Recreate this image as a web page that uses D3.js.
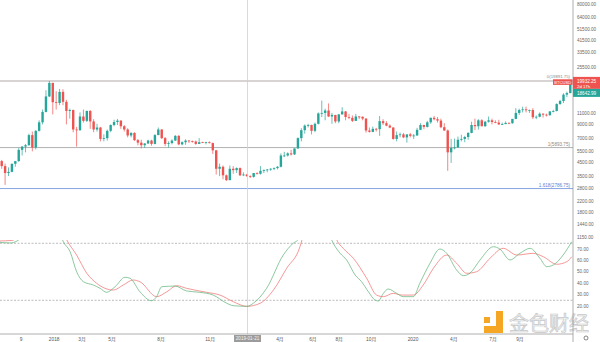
<!DOCTYPE html>
<html><head><meta charset="utf-8">
<script src="https://cdn.jsdelivr.net/npm/d3@7"></script>
<style>body{margin:0;background:#fff;overflow:hidden}svg{display:block;font-family:"Liberation Sans","Noto Sans CJK SC",Arial,sans-serif}</style>
</head><body><svg id="c" width="600" height="342"></svg>
<script>
// Weekly BTCUSD candles, week 0 = 2017-09-04 ... week 167 = 2020-11-16
const opens=[4600,4200,3700,3780,4380,4600,5650,6000,6150,7400,
5900,8000,9350,11300,15000,19200,13500,13300,16300,13600,
11500,11700,8200,8100,10400,9600,11500,9500,8200,8500,
6900,7000,8000,8900,9400,9650,8700,8200,7350,7700,
6750,6450,6150,6350,6700,6300,7400,8200,7000,6300,
6400,6700,7300,6250,6500,6700,6620,6580,6300,6500,
6450,6500,6400,5600,4000,4150,3550,3250,4000,3900,
4050,3550,3600,3500,3450,3700,3650,3850,3900,3950,
4000,4050,4150,5100,5100,5300,5200,5800,7000,8100,
8800,8900,8000,9100,11000,11100,11600,10400,10700,9500,
10800,11400,10300,10150,9600,10400,10350,10000,8050,7850,
8300,8250,9550,9200,8800,8500,6900,7400,7500,7100,
7500,7300,7350,8150,8900,8600,9350,10150,9900,9650,
8550,8050,5400,5850,5900,6800,6900,7150,7700,8900,
8700,9700,8700,9450,9700,9400,9300,9000,9050,9250,
9200,9950,11100,11700,11850,11650,11700,10250,10350,10950,
10750,10650,11400,11500,13050,13800,15500,15950];
const highs=[4700,4400,4100,4400,4620,5850,6050,6300,7600,7900,
8100,9700,11800,16800,19891,19300,16500,17200,17100,14100,
12000,11800,8600,11200,11800,11600,11700,9900,9100,8600,
7500,8200,9000,9800,9950,9700,8900,8400,7800,7800,
6900,6800,6400,6800,6800,7550,8500,8250,7150,6600,
6850,7400,7400,6600,6850,6750,6700,6700,7000,6550,
6550,6600,6450,5650,4400,4250,3600,4250,4200,4100,
4100,3750,3650,3550,3700,3750,4200,3950,3980,4050,
4100,4200,5300,5450,5400,5650,5800,7100,8400,9000,
9100,8950,9300,11200,13900,12000,13200,11100,10700,10900,
12300,11500,10900,10600,10900,10500,10400,10100,8500,8650,
8450,10500,9900,9550,9000,8550,7900,7750,7700,7500,
7700,7550,8450,9200,8950,9600,10200,10500,10300,10000,
9200,8200,6900,6950,7200,7450,7300,7800,9450,10000,
9900,9900,9600,10400,10000,9700,9800,9300,9500,9350,
9950,12100,12000,12450,12450,11800,12100,10600,11200,11000,
10950,11500,11750,13250,14100,15900,16400,18800];
const lows=[4000,2980,3500,3750,4150,4550,5100,5400,6100,5500,
5700,7900,9000,11200,14800,10800,11800,12800,12800,9000,
10000,7800,6000,8000,9300,9400,8300,7800,7900,6600,
6600,6700,7800,8700,8900,8300,7900,7100,7100,6650,
6150,5800,5850,6300,6100,6250,7400,6900,6050,5900,
6250,6650,6150,6150,6200,6400,6450,6200,6300,6400,
6250,6350,5250,3600,3500,3300,3200,3250,3650,3700,
3500,3500,3450,3380,3400,3600,3600,3700,3750,3850,
3900,3950,4100,4950,5000,5100,5150,5750,6600,7600,
8500,7500,7800,9000,10300,9700,10300,9100,9200,9200,
10800,9700,9900,9400,9600,9900,9700,7750,7750,7800,
7900,7300,8900,8700,8400,6800,6600,7100,7000,6450,
7100,6900,7300,8100,8250,8500,9100,9700,9300,8400,
8000,3850,4450,5700,5900,6600,6500,6800,7650,8100,
8200,8700,8650,9300,9000,9200,8900,8900,9050,9050,
9100,9900,10700,11200,11200,11100,9900,9900,10250,10200,
10400,10550,11200,11400,12900,13300,14800,15900];
const closes=[4200,3700,3780,4380,4600,5650,6000,6150,7400,5900,
8000,9350,11300,15000,19200,13500,13300,16300,13600,11500,
11700,8200,8100,10400,9600,11500,9500,8200,8500,6900,
7000,8000,8900,9400,9650,8700,8200,7350,7700,6750,
6450,6150,6350,6700,6300,7400,8200,7000,6300,6400,
6700,7300,6250,6500,6700,6620,6580,6300,6500,6450,
6500,6400,5600,4000,4150,3550,3250,4000,3900,4050,
3550,3600,3500,3450,3700,3650,3850,3900,3950,4000,
4050,4150,5100,5100,5300,5200,5800,7000,8100,8800,
8900,8000,9100,11000,11100,11600,10400,10700,9500,10800,
11400,10300,10150,9600,10400,10350,10000,8050,7850,8300,
8250,9550,9200,8800,8500,6900,7400,7500,7100,7500,
7300,7350,8150,8900,8600,9350,10150,9900,9650,8550,
8050,5400,5850,5900,6800,6900,7150,7700,8900,8700,
9700,8700,9450,9700,9400,9300,9000,9050,9250,9200,
9950,11100,11700,11850,11650,11700,10250,10350,10950,10750,
10650,11400,11500,13050,13800,15500,15950,18643];

// Oscillator readings (week position, value)
const kWeeks=[-1,2.4,4.5,7,10,14,16,18,20.1,22,24,26.9,28.9,30.8,33.3,36.2,37.7,40.6,44,45.5,47,50.9,54.3,58.2,62.1,66.1,68,72,73.9,77.8,82.7,85.6,87,89,92,95,96.9,97.4,99.4,101.3,103.8,105.7,107.7,109.6,110.6,112.1,113.5,116,117.9,120.9,122.8,125.8,128.7,130.7,133.6,135.6,137.5,140.5,144.4,146.3,149.3,152.2,155.2,158.1,160.1,162,164.9,167.4];
const kValues=[76,75.3,77,85,98,100,95,77,67.6,50.1,41.3,38.4,35.5,32,36.9,45.2,44.3,32.5,24.6,28.2,36.9,37.5,33.2,32,29.6,22.4,20.3,19.7,22.4,35.5,64.7,75,78,90,100,90,78,75,66.2,60.4,47.2,41.3,32.5,25.3,24.4,31.1,34.9,31.1,28.2,28.2,39.9,57.5,70,66.2,51.6,46.6,48.7,60.4,72,70,60.4,66.2,70.6,61.8,54.5,56,64.7,76.4];
const dWeeks=[-1,3,6,10,14,17,19.1,22,25,27.9,32.8,35.7,38.6,40.6,45.5,48.5,51.4,54.3,60.2,64.1,68,72,75.9,79.8,83.7,87.6,88.2,91,94,97,98.4,100.3,103.3,107.2,110.1,112.1,115,117.5,120.9,123.8,126.8,130.7,133.6,136.6,139.5,143.4,147.3,151.3,156.1,159.1,163,166,167.4];
const dValues=[77,77.5,85,97,100,92,78,64.7,48.7,39.9,34,38.4,42.8,41.3,28.2,32.5,37.8,35.5,32,29.6,23.8,19.7,22.4,34,53.1,72,78,92,100,90,78,70.6,61.8,44.3,29.6,28.2,31.1,29.6,29.6,38.4,53.1,64.7,57.5,48.7,50.1,61.8,70.6,64.7,66.2,63.2,56.6,58.9,63.2];

const priceTicks=[80000,64000,51500,41500,33500,25500,11000,9000,7000,5500,4500,3500,2800,2200,1800,1440,1150];
const oscTicks=[70,60,50,40,30,20];
const oscBands=[75,25];
const fibLabels=["0(19891.75)","1(5893.75)","1.618(2786.75)"];
const fibValues=[19891.75,5893.75,2786.75];
const timeLabels=["9","2018","3月","5月","8月","11月","4月","6月","8月","10月","2020","4月","7月","9月"];
const timeLabelWeeks=[5.7,15.4,23.6,32.4,46.8,61.2,81.7,91.4,99.1,108.5,120.8,132.8,144.3,152.2];
const crosshairWeek=72.2, crosshairText="2019-01-21";
const lastPrice=18642.99, markPrice=19932.25;

const svg=d3.select("#c");
const AX=573, PB=240, OB=334;
const x=d3.scaleLinear().domain([0,167]).range([1.7,570.3]);
const y=d3.scaleLog().domain([1088.3,87410]).range([PB,0]);
const yo=d3.scaleLinear().domain([20,70]).range([306,249]);
const UP="#26a69a", DN="#ef5350";

const defs=svg.append("defs");
defs.append("clipPath").attr("id","cp").append("rect").attr("x",0).attr("y",0).attr("width",AX).attr("height",PB);
defs.append("clipPath").attr("id","co").append("rect").attr("x",0).attr("y",PB).attr("width",AX).attr("height",OB-PB);

// watermark
const wm=svg.append("g");
wm.append("rect").attr("x",484).attr("y",317).attr("width",6).attr("height",6).attr("fill","#f5a623");
wm.append("path").attr("d","M484,326 H496 V311 H503 V333 H484 Z").attr("fill","#f5a623");
wm.append("text").attr("x",509).attr("y",331).attr("font-size",20).attr("font-family","Noto Sans CJK SC")
  .attr("fill","#f2f2f2").attr("stroke","#c8c8c8").attr("stroke-width",0.7).text("金色财经");

// fib lines
const fibColors=["#a89f9f","#a8a8a8","#7b9be0"];
const fibText=["#8a8a8a","#8a8a8a","#5b7fd6"];
const pg=svg.append("g").attr("clip-path","url(#cp)");
fibValues.forEach((v,i)=>{
  pg.append("line").attr("x1",0).attr("x2",AX).attr("y1",y(v)).attr("y2",y(v)).attr("stroke",fibColors[i]).attr("stroke-width",0.9);
});

// crosshair vertical
svg.append("line").attr("x1",x(crosshairWeek)).attr("x2",x(crosshairWeek)).attr("y1",0).attr("y2",OB).attr("stroke","#cfcfcf").attr("stroke-width",0.8);

// candles
const idx=d3.range(closes.length);
const cg=pg.append("g");
cg.selectAll("line").data(idx).join("line")
  .attr("x1",i=>x(i)).attr("x2",i=>x(i)).attr("y1",i=>y(highs[i])).attr("y2",i=>y(lows[i]))
  .attr("stroke",i=>closes[i]>=opens[i]?UP:DN).attr("stroke-width",0.7);
cg.selectAll("rect").data(idx).join("rect")
  .attr("x",i=>x(i)-1.2).attr("width",2.4)
  .attr("y",i=>Math.min(y(opens[i]),y(closes[i])))
  .attr("height",i=>Math.max(0.8,Math.abs(y(opens[i])-y(closes[i]))))
  .attr("fill",i=>closes[i]>=opens[i]?UP:DN);

// fib labels
fibValues.forEach((v,i)=>{
  svg.append("text").attr("x",570).attr("y",y(v)-(i===0?3.2:1.8)).attr("text-anchor","end").attr("font-size",i===0?4.3:4.6).attr("fill",fibText[i]).text(fibLabels[i]);
});

// oscillator
const og=svg.append("g").attr("clip-path","url(#co)");
oscBands.forEach(v=>og.append("line").attr("x1",0).attr("x2",AX).attr("y1",yo(v)).attr("y2",yo(v))
  .attr("stroke","#a0a0a0").attr("stroke-width",0.7).attr("stroke-dasharray","2,1.5"));
const line=d3.line().x(d=>x(d[0])).y(d=>yo(d[1])).curve(d3.curveMonotoneX);
og.append("path").attr("d",line(dWeeks.map((w,i)=>[w,dValues[i]]))).attr("fill","none").attr("stroke","#ef6b6b").attr("stroke-width",0.7);
og.append("path").attr("d",line(kWeeks.map((w,i)=>[w,kValues[i]]))).attr("fill","none").attr("stroke","#5cb276").attr("stroke-width",0.7);

// axes lines
svg.append("line").attr("x1",AX).attr("x2",AX).attr("y1",0).attr("y2",342).attr("stroke","#9a9a9a").attr("stroke-width",0.8);
svg.append("line").attr("x1",0).attr("x2",AX).attr("y1",OB).attr("y2",OB).attr("stroke","#9a9a9a").attr("stroke-width",0.8);

// right price labels
svg.append("g").selectAll("text").data(priceTicks).join("text")
  .attr("x",577).attr("y",d=>y(d)).attr("dy","0.35em").attr("font-size",4.6).attr("fill","#666")
  .text(d=>d3.format(".2f")(d));
svg.append("g").selectAll("text").data(oscTicks).join("text")
  .attr("x",577).attr("y",d=>yo(d)).attr("dy","0.35em").attr("font-size",4.6).attr("fill","#666")
  .text(d=>d3.format(".2f")(d));

// time labels
svg.append("g").selectAll("text").data(timeLabels).join("text")
  .attr("x",(d,i)=>x(timeLabelWeeks[i])).attr("y",340.5).attr("text-anchor","middle")
  .attr("font-size",4.8).attr("fill","#555").text(d=>d);

// crosshair time label
const cx=x(crosshairWeek);
svg.append("rect").attr("x",cx-13.5).attr("y",335).attr("width",27).attr("height",7).attr("fill","#9b9b9b");
svg.append("text").attr("x",cx).attr("y",340.3).attr("text-anchor","middle").attr("font-size",4.6).attr("fill","#f4f4f4").text(crosshairText);

// price labels on axis
const ym=y(markPrice);
svg.append("rect").attr("x",AX).attr("y",ym-4).attr("width",27).attr("height",12).attr("fill",DN);
svg.append("text").attr("x",577).attr("y",ym).attr("dy","0.35em").attr("font-size",4.6).attr("fill","#fff").text(d3.format(".2f")(markPrice));
svg.append("text").attr("x",577).attr("y",ym+5.5).attr("dy","0.35em").attr("font-size",4.3).attr("fill","#fff").text("2d 17h");
svg.append("rect").attr("x",553).attr("y",ym-1.6).attr("width",19.5).attr("height",5.6).attr("fill",DN);
svg.append("text").attr("x",562.7).attr("y",ym+1.2).attr("dy","0.35em").attr("text-anchor","middle").attr("font-size",4.1).attr("fill","#fff").text("BTCUSD");
const yl=ym+12;
svg.append("rect").attr("x",AX).attr("y",yl-4).attr("width",27).attr("height",8).attr("fill",UP);
svg.append("text").attr("x",577).attr("y",yl).attr("dy","0.35em").attr("font-size",4.6).attr("fill","#fff").text(d3.format(".2f")(lastPrice));

// settings icon
svg.append("circle").attr("cx",586).attr("cy",338).attr("r",2).attr("fill","none").attr("stroke","#555").attr("stroke-width",0.7);
</script></body></html>
